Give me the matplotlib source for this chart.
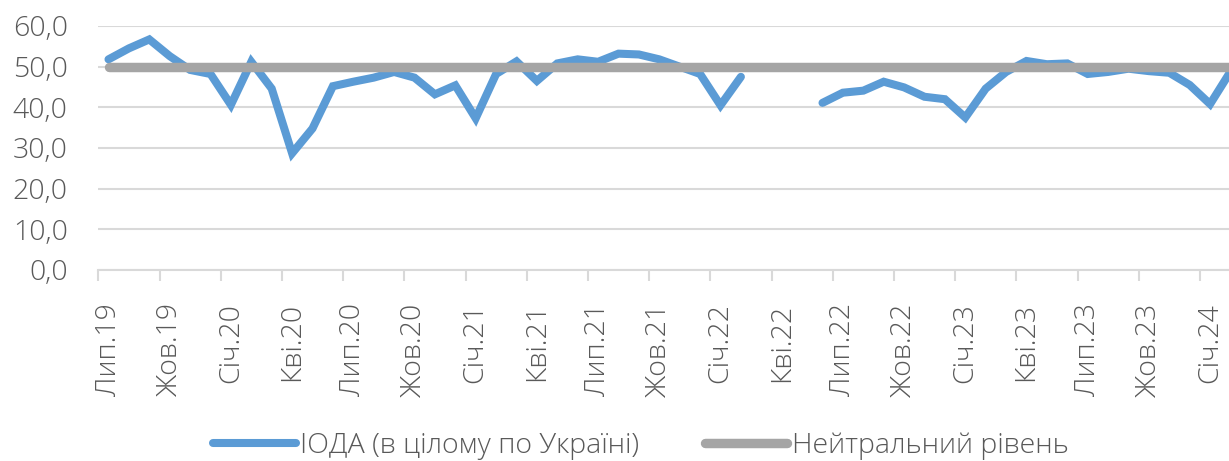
import numpy as np
import matplotlib.pyplot as plt
from matplotlib.ticker import FixedLocator, FuncFormatter

# monthly, Jul 2019 .. Feb 2024 (None = no survey)
months = ['Лип.19', 'Сер.19', 'Вер.19', 'Жов.19', 'Лис.19', 'Гру.19',
          'Січ.20', 'Лют.20', 'Бер.20', 'Кві.20', 'Тра.20', 'Чер.20',
          'Лип.20', 'Сер.20', 'Вер.20', 'Жов.20', 'Лис.20', 'Гру.20',
          'Січ.21', 'Лют.21', 'Бер.21', 'Кві.21', 'Тра.21', 'Чер.21',
          'Лип.21', 'Сер.21', 'Вер.21', 'Жов.21', 'Лис.21', 'Гру.21',
          'Січ.22', 'Лют.22', 'Бер.22', 'Кві.22', 'Тра.22', 'Чер.22',
          'Лип.22', 'Сер.22', 'Вер.22', 'Жов.22', 'Лис.22', 'Гру.22',
          'Січ.23', 'Лют.23', 'Бер.23', 'Кві.23', 'Тра.23', 'Чер.23',
          'Лип.23', 'Сер.23', 'Вер.23', 'Жов.23', 'Лис.23', 'Гру.23',
          'Січ.24', 'Лют.24']
ioda = [51.8, 54.5, 56.7, 52.6, 49.2, 48.2,
        40.6, 51.2, 44.6, 28.7, 34.8, 45.2,
        46.3, 47.3, 48.7, 47.3, 43.2, 45.4,
        37.3, 48.2, 51.3, 46.5, 50.8, 51.8,
        51.2, 53.2, 53.0, 51.8, 50.0, 48.2,
        40.5, 47.5, None, None, None, 41.1,
        43.6, 44.1, 46.3, 44.9, 42.6, 42.0,
        37.5, 44.6, 48.7, 51.4, 50.6, 50.8,
        48.2, 48.7, 49.5, 48.9, 48.5, 45.5,
        40.8, 48.8]
neutral = [50.0] * len(months)

plt.rcParams['font.family'] = ['Open Sans', 'DejaVu Sans']
plt.rcParams['font.weight'] = 'light'
txt = '#595959'
fs = 20.5

fig = plt.figure(figsize=(12.29, 4.61), dpi=100)
ax = fig.add_axes([98.3 / 1229, (461 - 270) / 461, (1240.7 - 98.3) / 1229, 244 / 461])

x = np.arange(len(months))
y = np.array([np.nan if v is None else v for v in ioda])
ax.plot(x, neutral, color='#A5A5A5', lw=6.8, solid_capstyle='round',
        label='Нейтральний рівень', zorder=3)
ax.plot(x, y, color='#5B9BD5', lw=5.8, solid_capstyle='round',
        solid_joinstyle='miter', label='ІОДА (в цілому по Україні)', zorder=2)

ax.set_xlim(-0.5, len(months) - 0.5)
ax.set_ylim(0, 60)
ax.set_yticks(np.arange(0, 61, 10))
ax.yaxis.set_major_formatter(FuncFormatter(lambda v, p: f'{v:.1f}'.replace('.', ',')))
ax.grid(axis='y', color='#D9D9D9', lw=1.5)
ax.set_axisbelow(True)

ax.set_xticks(x[::3])
ax.set_xticklabels(months[::3], rotation=90)
ax.xaxis.set_minor_locator(FixedLocator(np.arange(-0.5, len(months), 3)))
ax.tick_params(axis='x', which='major', length=0, pad=24, labelsize=fs, labelcolor=txt)
ax.tick_params(axis='x', which='minor', length=8, width=1.5, color='#D9D9D9')
ax.tick_params(axis='y', length=0, pad=22, labelsize=fs, labelcolor=txt)

for s in ['top', 'right', 'left']:
    ax.spines[s].set_visible(False)
ax.spines['bottom'].set_color('#D9D9D9')
ax.spines['bottom'].set_linewidth(1.5)

h, l = ax.get_legend_handles_labels()
leg = fig.legend(h[::-1], l[::-1], loc='center', bbox_to_anchor=(641 / 1229, 1 - 446 / 461),
                 ncol=2, frameon=False, fontsize=fs, handlelength=2.9,
                 handletextpad=0.15, columnspacing=2.3, labelcolor=txt)

fig.savefig('out.png', dpi=100)
